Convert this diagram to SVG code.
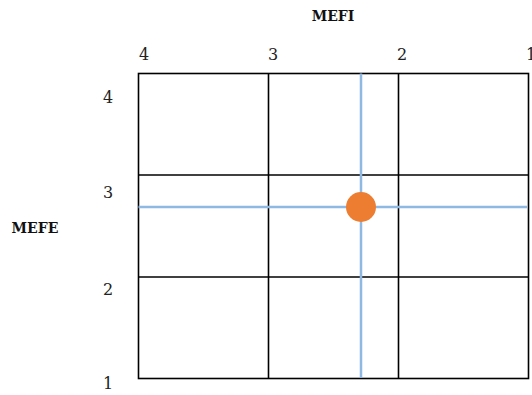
<svg xmlns="http://www.w3.org/2000/svg" width="532" height="395" viewBox="0 0 532 395">
<style>
.t{font-family:"DejaVu Serif","Liberation Serif",serif;font-size:16px;fill:#222;text-anchor:middle}
.b{font-family:"DejaVu Serif","Liberation Serif",serif;font-size:14px;font-weight:bold;fill:#111;text-anchor:middle}
.g{stroke:#000;stroke-width:1.6;fill:none}
.bl{stroke:#8fb8e2;stroke-width:2.5;fill:none}
</style>
<rect width="532" height="395" fill="#fff"/>
<g id="grid">
<rect class="g" x="138.5" y="73.5" width="390" height="305"/>
<line class="g" x1="268.5" y1="73.5" x2="268.5" y2="378.5"/>
<line class="g" x1="398.5" y1="73.5" x2="398.5" y2="378.5"/>
<line class="g" x1="138.5" y1="175" x2="528.5" y2="175"/>
<line class="g" x1="138.5" y1="277" x2="528.5" y2="277"/>
</g>
<g id="connectors">
<line class="bl" x1="361" y1="73.5" x2="361" y2="378"/>
<line class="bl" x1="138.5" y1="207" x2="527" y2="207"/>
</g>
<g id="point"><circle cx="361" cy="207" r="15" fill="#ed7d31"/></g>
<g id="labels">
<text class="b" x="333" y="21">MEFI</text>
<text class="b" x="35" y="233">MEFE</text>
<text class="t" x="144" y="60">4</text>
<text class="t" x="273" y="60">3</text>
<text class="t" x="402" y="60">2</text>
<text class="t" x="531" y="60">1</text>
<text class="t" x="108" y="103">4</text>
<text class="t" x="108" y="198">3</text>
<text class="t" x="108" y="295">2</text>
<text class="t" x="108" y="389">1</text>
</g>
</svg>
